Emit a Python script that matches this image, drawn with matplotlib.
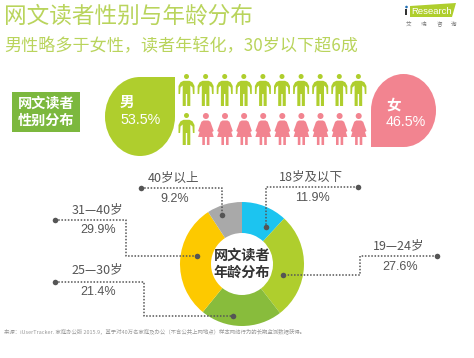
import matplotlib
matplotlib.use('Agg')
import matplotlib.pyplot as plt
from matplotlib.patches import Circle, Polygon, PathPatch, Rectangle
from matplotlib.path import Path

plt.rcParams['font.family'] = ['Noto Sans CJK SC', 'DejaVu Sans']

# data
age_labels = ['18岁及以下', '19—24岁', '25—30岁', '31—40岁', '40岁以上']
age_values = [11.9, 27.6, 21.4, 29.9, 9.2]
age_colors = ['#1cc4f0', '#afce2d', '#88bc3c', '#fdc900', '#a9a9a9']
gender_labels = ['男', '女']
gender_values = [53.5, 46.5]
row_men = [10, 1]
row_women = [0, 9]

GREEN = '#afce2d'
PINK = '#f28490'
TITLE = '#b9d45c'
DARK = '#555555'
LATIN = ['Liberation Sans', 'Noto Sans CJK SC']

W, H = 474, 358
fig = plt.figure(figsize=(W / 100, H / 100), dpi=100, facecolor='white')

# donut in its own axes
cx, cy, r = 242, 264, 62
ax_d = fig.add_axes([(cx - r) / W, 1 - (cy + r) / H, 2 * r / W, 2 * r / H], zorder=1)
ax_d.pie(age_values, colors=age_colors, startangle=90, counterclock=False, radius=1,
         wedgeprops=dict(width=0.5, linewidth=0))
ax_d.set_xlim(-1, 1)
ax_d.set_ylim(-1, 1)

# overlay in pixel coords
ax = fig.add_axes([0, 0, 1, 1], zorder=2)
ax.set_xlim(0, W)
ax.set_ylim(H, 0)
ax.axis('off')
ax.patch.set_alpha(0)

# title
ax.text(4, 16, '网文读者性别与年龄分布', fontsize=16.3, color=TITLE, va='center')
ax.text(4, 45, '男性略多于女性，读者年轻化，30岁以下超6成', fontsize=12.3, color=TITLE, va='center')

# logo
ax.add_patch(Polygon([(410, 6), (456, 3), (452, 17), (410, 17)], color=GREEN, lw=0))
ax.add_patch(Circle((406.5, 7), 1.3, color='#1f6fb5', lw=0))
ax.add_patch(Rectangle((405.5, 9), 2, 6, color='#333333', lw=0))
ax.text(411, 11.5, 'Research', fontsize=6.8, color='white', va='center', family=LATIN)
for x, ch in zip([408, 424, 439, 454], '艾瑞咨询'):
    ax.text(x, 24.5, ch, fontsize=4, color='#777777', ha='center', va='center')

# gender box
ax.add_patch(Rectangle((12, 92), 68, 40, color='#7cb83e', lw=0))
ax.text(46, 104, '网文读者', fontsize=10.2, color='white', weight='bold', ha='center', va='center')
ax.text(46, 121, '性别分布', fontsize=10.2, color='white', weight='bold', ha='center', va='center')


def drop(left, right, top, bottom, corner_top_right, color):
    mx, my = (left + right) / 2, (top + bottom) / 2
    kx, ky = (right - left) / 2 * 0.55, (bottom - top) / 2 * 0.55
    if corner_top_right:
        verts = [(right, top), (mx, top), (mx - kx, top), (left, my - ky), (left, my),
                 (left, my + ky), (mx - kx, bottom), (mx, bottom),
                 (mx + kx, bottom), (right, my + ky), (right, my), (right, top)]
    else:
        verts = [(left, bottom), (left, my), (left, my - ky), (mx - kx, top), (mx, top),
                 (mx + kx, top), (right, my - ky), (right, my),
                 (right, my + ky), (mx + kx, bottom), (mx, bottom), (left, bottom)]
    codes = [Path.MOVETO, Path.LINETO] + [Path.CURVE4] * 9 + [Path.LINETO]
    ax.add_patch(PathPatch(Path(verts, codes), facecolor=color, lw=0))


drop(105, 175, 77, 156, True, GREEN)
drop(371, 436, 74, 147, False, PINK)
ax.text(120, 102, gender_labels[0], fontsize=10.5, color='white', weight='bold', va='center')
ax.text(120, 120, f'{gender_values[0]}%', fontsize=10.3, color='white', va='center', family=LATIN)
ax.text(386, 105, gender_labels[1], fontsize=10.5, color='white', weight='bold', va='center')
ax.text(386, 122, f'{gender_values[1]}%', fontsize=10.3, color='white', va='center', family=LATIN)


def man(x, y):
    ax.add_patch(Circle((x, y + 2.5), 2.5, color=GREEN, lw=0))
    shape = [(-3, 6.8), (3, 6.8), (6, 8.3), (8, 12), (8, 20), (6.4, 20), (6, 13.5), (3.8, 11.5), (3.8, 32),
             (0.7, 32), (0.7, 20), (-0.7, 20), (-0.7, 32), (-3.8, 32), (-3.8, 11.5), (-6, 13.5),
             (-6.4, 20), (-8, 20), (-8, 12), (-6, 8.3)]
    ax.add_patch(Polygon([(x + a, y + b) for a, b in shape], color=GREEN, lw=0))


def woman(x, y):
    ax.add_patch(Circle((x, y + 3), 3, color=PINK, lw=0))
    shape = [(-2.5, 7.5), (2.5, 7.5), (4.5, 8.8), (7.8, 18), (6.3, 19), (7.8, 24), (3.6, 24), (3.6, 32), (1, 32),
             (1, 24), (-1, 24), (-1, 32), (-3.6, 32), (-3.6, 24), (-7.8, 24), (-6.3, 19), (-7.8, 18),
             (-4.5, 8.8)]
    ax.add_patch(Polygon([(x + a, y + b) for a, b in shape], color=PINK, lw=0))


for row, y in enumerate([74, 113]):
    for i in range(row_men[row] + row_women[row]):
        x = 186.5 + i * 19.1
        if i < row_men[row]:
            man(x, y)
        else:
            woman(x + 0.3, y)

# leader lines: one path per age group
leaders = [
    [(358, 187), (265.7, 187), (265.7, 227)],
    [(437, 256), (360, 256), (360, 275), (283, 275)],
    [(55, 282), (144, 282), (144, 316), (233, 316)],
    [(55, 220), (126, 220), (126, 256), (196.7, 256)],
    [(141, 188), (222.5, 188), (222.5, 215)],
]
label_pos = [(311, 177, 198), (399, 246, 267), (97, 270, 292), (97, 210, 230), (174, 178, 199)]
for path, (tx, y1, y2), name, val in zip(leaders, label_pos, age_labels, age_values):
    xs = [p[0] for p in path]
    ys = [p[1] for p in path]
    ax.plot(xs, ys, color=DARK, lw=1.1, dashes=(1, 1.1))
    ax.plot([xs[0], xs[-1]], [ys[0], ys[-1]], 'o', color=DARK, ms=4, mew=0)
    ax.text(tx, y1, name, fontsize=9, color=DARK, ha='center', va='center')
    ax.text(tx + 1, y2, f'{val}%', fontsize=9, color=DARK, ha='center', va='center', family=LATIN)

ax.text(cx, 256, '网文读者', fontsize=10.2, color='#333333', weight='bold', ha='center', va='center')
ax.text(cx, 273, '年龄分布', fontsize=10.2, color='#333333', weight='bold', ha='center', va='center')

ax.text(4, 331, '来源：iUserTracker. 家庭办公版 2015.9，基于对40万名家庭及办公（不含公共上网地点）样本网络行为的长期监测数据获得。',
        fontsize=3.9, color='#999999', va='center')

fig.savefig('out.png', dpi=100)
